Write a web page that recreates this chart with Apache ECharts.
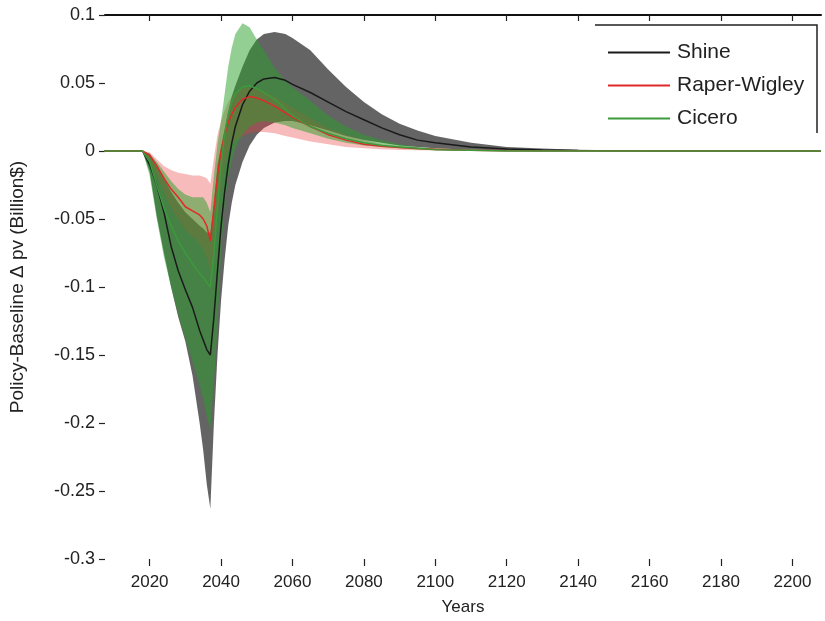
<!DOCTYPE html>
<html>
<head>
<meta charset="utf-8">
<script src="https://cdn.jsdelivr.net/npm/echarts@6/dist/echarts.min.js"></script>
<style>
  html, body { margin: 0; padding: 0; background: #fff; }
  #chart { width: 825px; height: 621px; }
</style>
</head>
<body>
<div id="chart"></div>
<script>
const years = [2007, 2018, 2020, 2022, 2024, 2026, 2028, 2030, 2032, 2034, 2035, 2036, 2037, 2038, 2039, 2040, 2041, 2042, 2043, 2044, 2046, 2048, 2050, 2052, 2055, 2058, 2060, 2065, 2070, 2075, 2080, 2085, 2090, 2095, 2100, 2110, 2120, 2130, 2140, 2160, 2180, 2200, 2208]

// Shine
const shineMean = [0, 0, -0.01, -0.025, -0.045, -0.07, -0.088, -0.102, -0.115, -0.132, -0.139, -0.146, -0.15, -0.122, -0.088, -0.055, -0.03, -0.01, 0.006, 0.018, 0.034, 0.044, 0.05, 0.053, 0.054, 0.052, 0.049, 0.043, 0.036, 0.029, 0.023, 0.017, 0.012, 0.008, 0.006, 0.003, 0.0015, 0.0008, 0.0004, 0, 0, 0, 0]
const shineUpper = [0, 0, -0.002, -0.01, -0.02, -0.03, -0.038, -0.045, -0.05, -0.055, -0.057, -0.06, -0.06, -0.04, -0.01, 0.003, 0.016, 0.029, 0.04, 0.048, 0.062, 0.074, 0.082, 0.086, 0.0875, 0.086, 0.083, 0.074, 0.06, 0.047, 0.036, 0.027, 0.02, 0.015, 0.011, 0.006, 0.003, 0.0018, 0.001, 0.0002, 0, 0, 0]
const shineLower = [0, 0, -0.015, -0.048, -0.075, -0.1, -0.122, -0.14, -0.165, -0.2, -0.22, -0.245, -0.263, -0.2, -0.15, -0.11, -0.08, -0.055, -0.038, -0.025, -0.008, 0.004, 0.012, 0.017, 0.021, 0.022, 0.022, 0.019, 0.015, 0.011, 0.008, 0.006, 0.004, 0.003, 0.002, 0.001, 0.0005, 0.0002, 0, 0, 0, 0, 0]

// Raper-Wigley
const raperMean = [0, 0, -0.003, -0.011, -0.02, -0.028, -0.034, -0.041, -0.044, -0.047, -0.05, -0.055, -0.066, -0.042, -0.018, 0, 0.012, 0.021, 0.027, 0.032, 0.038, 0.04, 0.039, 0.037, 0.033, 0.028, 0.025, 0.018, 0.012, 0.008, 0.005, 0.0035, 0.0025, 0.0018, 0.0012, 0.0005, 0.0002, 0, 0, 0, 0, 0, 0]
const raperUpper = [0, 0, -0.001, -0.006, -0.011, -0.014, -0.016, -0.017, -0.018, -0.018, -0.019, -0.02, -0.024, -0.005, 0.012, 0.022, 0.03, 0.036, 0.04, 0.043, 0.046, 0.047, 0.046, 0.044, 0.04, 0.035, 0.032, 0.024, 0.017, 0.012, 0.008, 0.005, 0.0035, 0.0025, 0.0018, 0.0008, 0.0003, 0, 0, 0, 0, 0, 0]
const raperLower = [0, 0, -0.006, -0.018, -0.03, -0.042, -0.05, -0.058, -0.063, -0.068, -0.072, -0.078, -0.088, -0.072, -0.05, -0.025, -0.01, 0, 0.005, 0.008, 0.011, 0.013, 0.014, 0.014, 0.013, 0.011, 0.01, 0.007, 0.005, 0.003, 0.002, 0.0012, 0.0008, 0.0005, 0.0003, 0, 0, 0, 0, 0, 0, 0, 0]

// Cicero
const ciceroMean = [0, 0, -0.008, -0.025, -0.042, -0.055, -0.066, -0.075, -0.083, -0.09, -0.093, -0.097, -0.1, -0.075, -0.04, -0.01, 0.012, 0.027, 0.036, 0.042, 0.047, 0.048, 0.046, 0.043, 0.038, 0.031, 0.026, 0.018, 0.013, 0.009, 0.006, 0.004, 0.003, 0.002, 0.001, 0.0005, 0, 0, 0, 0, 0, 0, 0]
const ciceroUpper = [0, 0, -0.002, -0.008, -0.015, -0.022, -0.028, -0.032, -0.034, -0.034, -0.034, -0.038, -0.045, -0.018, 0.005, 0.022, 0.042, 0.062, 0.076, 0.086, 0.094, 0.091, 0.082, 0.074, 0.061, 0.052, 0.047, 0.037, 0.026, 0.018, 0.012, 0.008, 0.005, 0.003, 0.002, 0.001, 0, 0, 0, 0, 0, 0, 0]
const ciceroLower = [0, 0, -0.018, -0.05, -0.078, -0.1, -0.12, -0.138, -0.155, -0.172, -0.182, -0.195, -0.205, -0.17, -0.13, -0.075, -0.04, -0.02, -0.008, 0.002, 0.012, 0.018, 0.021, 0.022, 0.021, 0.019, 0.017, 0.013, 0.009, 0.006, 0.004, 0.003, 0.002, 0.001, 0.001, 0, 0, 0, 0, 0, 0, 0, 0]

const xTicks = [2020, 2040, 2060, 2080, 2100, 2120, 2140, 2160, 2180, 2200]

const font = '"Liberation Sans", Arial, sans-serif'
const textColor = '#222'

const toPairs = (arr) => years.map((y, i) => [y, arr[i]])

// 用一个多边形画出上下界之间的区域
const bandSeries = (name, upper, lower, color) => ({
  name,
  type: 'custom',
  silent: true,
  xAxisIndex: 0,
  yAxisIndex: 0,
  data: years.map((y, i) => [y, lower[i], upper[i]]),
  encode: { x: 0, y: [1, 2] },
  renderItem: (params, api) => {
    if (params.dataIndex !== 0) return null
    const pts = []
    years.forEach((y, i) => pts.push(api.coord([y, upper[i]])))
    for (let i = years.length - 1; i >= 0; i--) pts.push(api.coord([years[i], lower[i]]))
    return {
      type: 'polygon',
      shape: { points: pts },
      style: { fill: color, stroke: null }
    }
  },
  z: 1
})

const lineSeries = (name, arr, color) => ({
  name,
  type: 'line',
  data: toPairs(arr),
  symbol: 'none',
  smooth: false,
  lineStyle: { color, width: 1.5 },
  itemStyle: { color },
  z: 3
})

const chart = echarts.init(document.getElementById('chart'))
chart.setOption({
  animation: false,
  backgroundColor: '#fff',
  grid: { left: 103, right: 4, top: 15, bottom: 61, containLabel: false },
  legend: {
    orient: 'vertical',
    left: 603,
    top: 37,
    icon: 'rect',
    itemWidth: 62,
    itemHeight: 2,
    itemGap: 12,
    data: ['Shine', 'Raper-Wigley', 'Cicero'],
    textStyle: { fontFamily: font, fontSize: 21, color: textColor, padding: [0, 0, 0, 2] }
  },
  graphic: [
    {
      type: 'polyline',
      shape: { points: [[595, 25], [817, 25], [817, 133]] },
      style: { stroke: '#222', lineWidth: 1.5, fill: null },
      z: 10
    }
  ],
  xAxis: [
    {
      type: 'value',
      min: 2007.5,
      max: 2208,
      name: 'Years',
      nameLocation: 'middle',
      nameGap: 40,
      nameTextStyle: { fontFamily: font, fontSize: 17, color: textColor },
      axisLine: { show: false, onZero: false },
      axisTick: { show: true, inside: false, length: 7, customValues: xTicks, lineStyle: { color: '#222', width: 1.2 } },
      axisLabel: { customValues: xTicks, margin: 15, fontFamily: font, fontSize: 17, color: textColor, formatter: v => String(v) },
      splitLine: { show: false }
    },
    {
      type: 'value',
      position: 'top',
      min: 2007.5,
      max: 2208,
      axisLine: { show: true, onZero: false, lineStyle: { color: '#111', width: 2 } },
      axisTick: { show: true, inside: true, length: 6, customValues: xTicks, lineStyle: { color: '#222', width: 1.2 } },
      axisLabel: { show: false },
      splitLine: { show: false }
    }
  ],
  yAxis: {
    type: 'value',
    min: -0.3,
    max: 0.1,
    interval: 0.05,
    name: 'Policy-Baseline Δ pv (Billion$)',
    nameLocation: 'middle',
    nameGap: 78,
    nameTextStyle: { fontFamily: font, fontSize: 19, color: textColor },
    axisLine: { show: false },
    axisTick: { show: true, inside: false, length: 6, lineStyle: { color: '#222', width: 1.2 } },
    axisLabel: {
      margin: 10,
      fontFamily: font,
      fontSize: 18,
      color: textColor,
      formatter: v => String(+v.toFixed(2))
    },
    splitLine: { show: false }
  },
  series: [
    bandSeries('ShineBand', shineUpper, shineLower, 'rgba(40, 40, 40, 0.72)'),
    bandSeries('RaperBand', raperUpper, raperLower, 'rgba(235, 60, 60, 0.35)'),
    bandSeries('CiceroBand', ciceroUpper, ciceroLower, 'rgba(40, 160, 40, 0.5)'),
    lineSeries('Shine', shineMean, '#1a1a1a'),
    lineSeries('Raper-Wigley', raperMean, '#e02a2a'),
    lineSeries('Cicero', ciceroMean, '#3c9a3c')
  ]
})
</script>
</body>
</html>
